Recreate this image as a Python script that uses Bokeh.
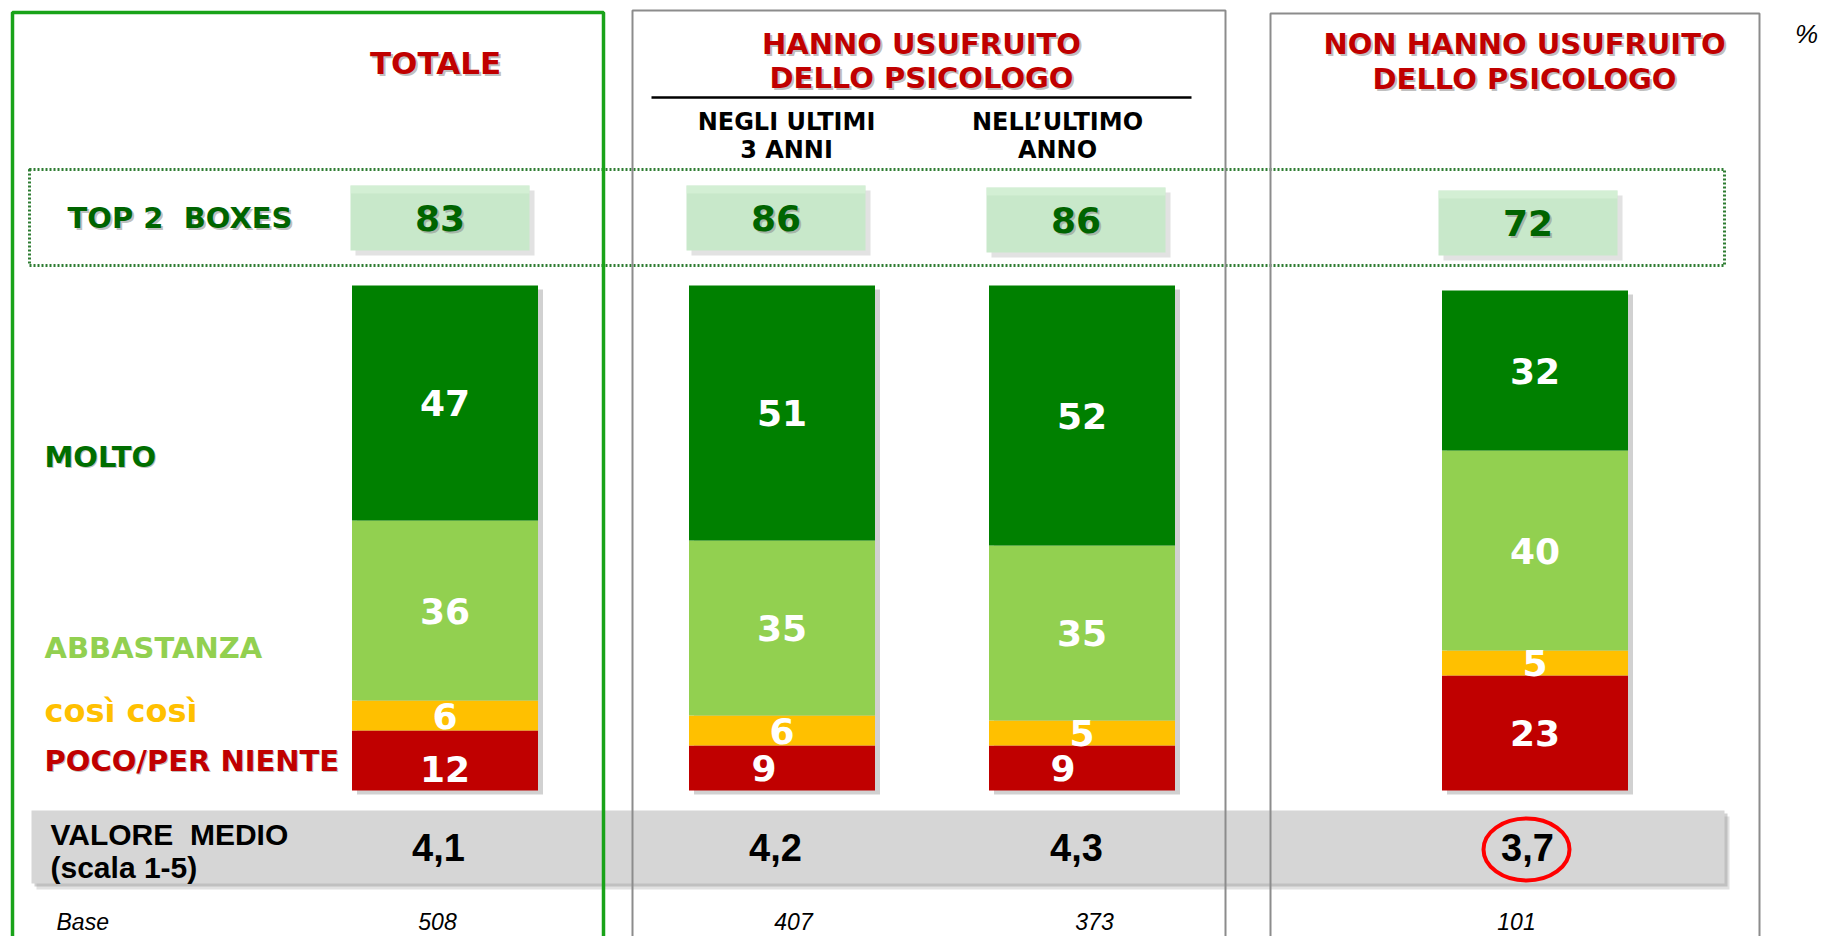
import numpy as np
from bokeh.plotting import figure
from bokeh.models import Range1d
from bokeh.core.properties import value
from bokeh.embed import file_html
from bokeh.resources import INLINE

# ---------------- data ----------------
groups = ["TOTALE", "NEGLI ULTIMI 3 ANNI", "NELL’ULTIMO ANNO", "NON HANNO USUFRUITO"]
segments = ["POCO/PER NIENTE", "così così", "ABBASTANZA", "MOLTO"]
poco = [12, 9, 9, 23]
cosi = [6, 6, 5, 5]
abbastanza = [36, 35, 35, 40]
molto = [47, 51, 52, 32]
top2 = [83, 86, 86, 72]
mean_vals = [4.1, 4.2, 4.3, 3.7]
base_n = [508, 407, 373, 101]

# ---------------- layout helpers (pixel -> data) ----------------
W, H = 1820, 936
BASELINE = 790.0   # screen y of the bars' zero
PX_PER_UNIT = 5.0


def ypx(v):
    return (BASELINE - v) / PX_PER_UNIT


p = figure(width=W, height=H, x_range=Range1d(0, W),
           y_range=Range1d(ypx(H), ypx(0)),
           output_backend="svg", toolbar_location=None,
           x_axis_type=None, y_axis_type=None, min_border=0)
p.outline_line_color = None
p.background_fill_color = "white"
p.border_fill_color = "white"

HEAVY = value("DejaVu Sans")
ARIAL = value("Liberation Sans")

bar_x = np.array([444.5, 781.5, 1081.5, 1534.5])
bar_w = 186
box_x = np.array([439.5, 775.5, 1075.5, 1527.5])
box_top = np.array([185, 185, 187, 190])
box_w, box_h = 179, 65
mean_x = [438, 775, 1076, 1527]
base_x = [437, 793, 1094, 1516]
# small label nudges (pixels) as placed in the original slide: [segment][column]
nudge_x = [[0, -18, -19, 0], [0, 0, 0, 0], [0, 0, 0, 0], [0, 0, 0, 0]]
nudge_y = [[8, 0, 0, 0], [0, 0, 0, 0], [0, 0, 0, 0], [0, 0, 0, 0]]


def txt(x, y, t, size, color, font=HEAVY, style="bold", align="center",
        shadow=False, sdx=2, sdy=2):
    x = list(np.atleast_1d(x))
    y = list(np.atleast_1d(y))
    t = list(np.atleast_1d(t)) if not isinstance(t, str) else [t]
    if shadow:
        p.text(x=[xx + sdx for xx in x], y=[ypx(yy + sdy) for yy in y], text=t,
               text_font=font, text_font_style=style, text_font_size=size,
               text_color="#8a8a8a", text_alpha=0.55, text_align=align,
               text_baseline="middle")
    p.text(x=x, y=[ypx(yy) for yy in y], text=t, text_font=font,
           text_font_style=style, text_font_size=size, text_color=color,
           text_align=align, text_baseline="middle")


# ---------------- grey band (valore medio) ----------------
p.quad(left=[36], right=[1729], top=[ypx(816)], bottom=[ypx(889)],
       fill_color="#a8a8a8", fill_alpha=0.35, line_color=None)
p.quad(left=[34], right=[1727], top=[ypx(813)], bottom=[ypx(886)],
       fill_color="#9a9a9a", fill_alpha=0.45, line_color=None)
p.quad(left=[31], right=[1724], top=[ypx(810)], bottom=[ypx(883)],
       fill_color="#D6D6D6", line_color=None)

# ---------------- top 2 boxes ----------------
p.quad(left=box_x - box_w / 2 + 5, right=box_x + box_w / 2 + 5,
       top=ypx(box_top + 5), bottom=ypx(box_top + box_h + 5),
       fill_color="#8a8a8a", fill_alpha=0.25, line_color=None)
p.quad(left=box_x - box_w / 2, right=box_x + box_w / 2,
       top=ypx(box_top), bottom=ypx(box_top + box_h),
       fill_color="#C8E8CA", line_color=None)
p.quad(left=box_x - box_w / 2, right=box_x + box_w / 2,
       top=ypx(box_top), bottom=ypx(box_top + 8),
       fill_color="#DDF5DD", fill_alpha=0.5, line_color=None)
txt(box_x, box_top + box_h / 2, [str(v) for v in top2], "36px", "#006400",
    shadow=True)

# dotted frame around top-2 row
p.quad(left=[29], right=[1724], top=[ypx(169)], bottom=[ypx(265)],
       fill_color=None, line_color="#2E7D32", line_width=3, line_dash="2 2")
txt(67, 217, "TOP 2\u00a0 BOXES", "29px", "#006400", align="left", shadow=True)

# ---------------- stacked bars ----------------
stack = [poco, cosi, abbastanza, molto]
colors = ["#C00000", "#FFC000", "#92D050", "#008000"]
totals = np.sum(np.array(stack), axis=0)
p.vbar(x=bar_x + 5, width=bar_w, bottom=-0.8, top=totals - 0.8,
       fill_color="#7a7a7a", fill_alpha=0.35, line_color=None)
bottom = np.zeros(4)
label_x, label_y, label_t = [], [], []
for k, (vals, col) in enumerate(zip(stack, colors)):
    vals = np.array(vals, dtype=float)
    top = bottom + vals
    p.vbar(x=bar_x, width=bar_w, bottom=bottom, top=top, fill_color=col,
           line_color=None)
    label_x += list(bar_x + np.array(nudge_x[k]))
    label_y += list((bottom + top) / 2 - np.array(nudge_y[k]) / PX_PER_UNIT)
    label_t += [str(int(v)) for v in vals]
    bottom = top
p.text(x=label_x, y=label_y, text=label_t, text_font=HEAVY,
       text_font_style="bold", text_font_size="36px", text_color="white",
       text_align="center", text_baseline="middle")

# ---------------- row labels ----------------
txt(44, 456, "MOLTO", "29px", "#006E00", align="left", shadow=True, sdx=1, sdy=1)
txt(44, 647, "ABBASTANZA", "29px", "#92D050", align="left")
txt(44, 710, "così così", "32px", "#FFC000", align="left")
txt(44, 760, "POCO/PER NIENTE", "29px", "#C00000", align="left", shadow=True,
    sdx=1, sdy=1)

# ---------------- headers ----------------
RED = "#C00000"
txt(435, 62, "TOTALE", "31px", RED, shadow=True)
txt(921, 43, "HANNO USUFRUITO", "29px", RED, shadow=True)
txt(921, 77, "DELLO PSICOLOGO", "29px", RED, shadow=True)
txt(1524, 43, "NON HANNO USUFRUITO", "29px", RED, shadow=True)
txt(1524, 78, "DELLO PSICOLOGO", "29px", RED, shadow=True)
p.segment(x0=[651], y0=[ypx(97)], x1=[1191], y1=[ypx(97)],
          line_color="black", line_width=2.5)
txt(786, 121, "NEGLI ULTIMI", "24px", "black")
txt(786, 149, "3 ANNI", "24px", "black")
txt(1057, 121, "NELL’ULTIMO", "24px", "black")
txt(1057, 149, "ANNO", "24px", "black")
txt(1806, 33, "%", "26px", "black", font=ARIAL, style="italic")

# ---------------- valore medio ----------------
txt(50, 834, "VALORE\u00a0 MEDIO", "30px", "black", font=ARIAL, align="left")
txt(50, 867, "(scala 1-5)", "30px", "black", font=ARIAL, align="left")
txt(mean_x, [847] * 4, [f"{v:.1f}".replace(".", ",") for v in mean_vals],
    "38px", "black", font=ARIAL)
p.ellipse(x=[1526], y=[ypx(849)], width=86, height=62 / PX_PER_UNIT,
          fill_color=None, line_color="#FF0000", line_width=4)

# ---------------- base ----------------
txt(56, 921, "Base", "23px", "black", font=ARIAL, style="italic", align="left")
txt(base_x, [921] * 4, [str(v) for v in base_n], "23px", "black", font=ARIAL,
    style="italic")

# ---------------- column frames ----------------
p.quad(left=[12], right=[603], top=[ypx(12)], bottom=[ypx(990)],
       fill_color=None, line_color="#19A319", line_width=3.5)
p.quad(left=[632, 1270], right=[1225, 1759], top=[ypx(10), ypx(13)],
       bottom=[ypx(990), ypx(990)], fill_color=None, line_color="#8C8C8C",
       line_width=2)

open("out.html", "w").write(file_html(p, INLINE))
